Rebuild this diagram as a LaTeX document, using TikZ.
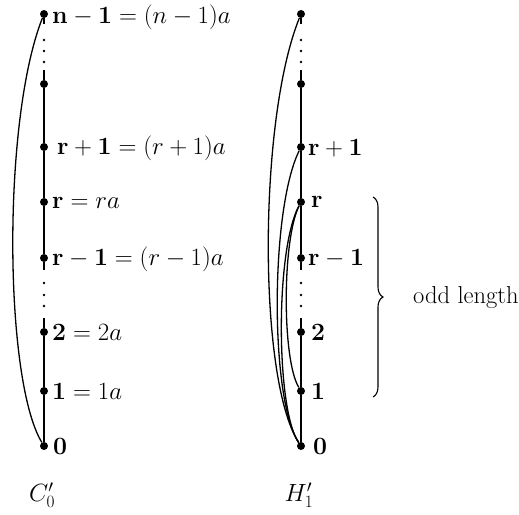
\documentclass[tikz,border=0pt]{standalone}
\usetikzlibrary{decorations.pathreplacing}
\begin{document}
\begin{tikzpicture}[x=1pt,y=-1pt,
  every node/.style={font=\fontsize{24.5}{29}\selectfont},
  dot/.style={circle,fill=black,inner sep=0pt,minimum size=8pt},
  lbl/.style={anchor=west,inner sep=0pt},
  edge/.style={line width=1.3pt},
  ddot/.style={fill=black}]
\useasboundingbox (0,0) rectangle (519,514);
% ---------- left graph C'_0
\node[dot] (aN) at (44,14) {};
\node[dot] (aU) at (44,84) {};
\node[dot] (aRp) at (44,147) {};
\node[dot] (aR) at (44,202) {};
\node[dot] (aRm) at (44,258) {};
\node[dot] (a2) at (44,332) {};
\node[dot] (a1) at (44,391) {};
\node[dot] (a0) at (44,446) {};
\node[lbl] (laN) at (52,17) {$\mathbf{n-1}=(n-1)a$};
\node[lbl] (laRp) at (57,148) {$\mathbf{r+1}=(r+1)a$};
\node[lbl] (laR) at (52,203) {$\mathbf{r}=ra$};
\node[lbl] (laRm) at (52,259) {$\mathbf{r-1}=(r-1)a$};
\node[lbl] (la2) at (52,332) {$\mathbf{2}=2a$};
\node[lbl] (la1) at (52,391) {$\mathbf{1}=1a$};
\node[lbl] (la0) at (53,446) {$\mathbf{0}$};
\coordinate (aNs) at (44,24);
\coordinate (aUs) at (44,70);
\coordinate (aRms) at (44,270);
\coordinate (a2s) at (44,318);
\draw[edge] (aN) -- (aNs);
\draw[edge] (aUs) -- (aU);
\draw[edge] (aU) -- (aRp) -- (aR) -- (aRm) -- (aRms);
\draw[edge] (a2s) -- (a2) -- (a1) -- (a0);
\foreach \yy in {40,51,62} \fill[ddot] (44,\yy) circle (1.3pt);
\foreach \yy in {283,295,306} \fill[ddot] (44,\yy) circle (1.3pt);
\draw[edge] (aN) .. controls (2,120) and (4,380) .. (a0);
\node (cap1) at (42,495) {$C_0'$};
% ---------- right graph H'_1
\node[dot] (bN) at (301,14) {};
\node[dot] (bU) at (301,84) {};
\node[dot] (bRp) at (301,147) {};
\node[dot] (bR) at (301,202) {};
\node[dot] (bRm) at (301,258) {};
\node[dot] (b2) at (301,332) {};
\node[dot] (b1) at (301,391) {};
\node[dot] (b0) at (301,446) {};
\node[lbl] (lbRp) at (308,148) {$\mathbf{r+1}$};
\node[lbl] (lbR) at (311,202) {$\mathbf{r}$};
\node[lbl] (lbRm) at (308,259) {$\mathbf{r-1}$};
\node[lbl] (lb2) at (311,332) {$\mathbf{2}$};
\node[lbl] (lb1) at (311,391) {$\mathbf{1}$};
\node[lbl] (lb0) at (313,446) {$\mathbf{0}$};
\coordinate (bNs) at (301,24);
\coordinate (bUs) at (301,70);
\coordinate (bRms) at (301,270);
\coordinate (b2s) at (301,318);
\draw[edge] (bN) -- (bNs);
\draw[edge] (bUs) -- (bU);
\draw[edge] (bU) -- (bRp) -- (bR) -- (bRm) -- (bRms);
\draw[edge] (b2s) -- (b2) -- (b1) -- (b0);
\foreach \yy in {40,51,62} \fill[ddot] (301,\yy) circle (1.3pt);
\foreach \yy in {283,295,306} \fill[ddot] (301,\yy) circle (1.3pt);
\draw[edge] (bN) .. controls (258,120) and (258,380) .. (b0);
\draw[edge] (bRp) .. controls (270,210) and (270,400) .. (b0);
\draw[edge] (bR) .. controls (275,250) and (276,410) .. (b0);
\draw[edge] (bR) .. controls (282,240) and (282,360) .. (b1);
\node (cap2) at (299,495) {$H_1'$};
% brace
\coordinate (brT) at (373,197);
\coordinate (brB) at (373,397);
\draw[line width=1.1pt,decorate,decoration={brace,amplitude=10pt}] (brT) -- (brB);
\node[lbl] (odd) at (413,297) {odd length};
\end{tikzpicture}
\end{document}
